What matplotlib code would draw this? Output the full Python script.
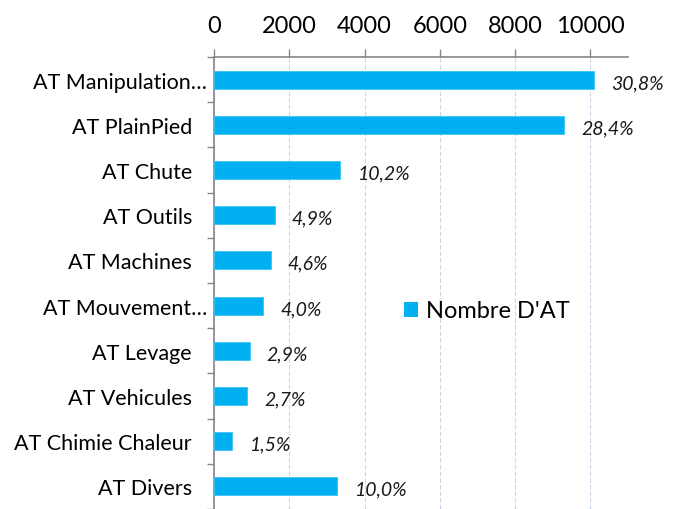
import numpy as np
import matplotlib
matplotlib.use("Agg")
import matplotlib.pyplot as plt
import matplotlib.transforms as mtransforms
from matplotlib.patches import Patch

plt.rcParams['font.family'] = ['Lato', 'DejaVu Sans']

# données
categories = ["AT Manipulation…", "AT PlainPied", "AT Chute", "AT Outils",
              "AT Machines", "AT Mouvement…", "AT Levage", "AT Vehicules",
              "AT Chimie Chaleur", "AT Divers"]
nombre_at = [10100, 9310, 3350, 1610, 1510, 1310, 950, 885, 490, 3280]
pourcents = ["30,8%", "28,4%", "10,2%", "4,9%", "4,6%", "4,0%",
             "2,9%", "2,7%", "1,5%", "10,0%"]
x_ticks = [0, 2000, 4000, 6000, 8000, 10000]

bleu = '#00B0F0'
gris = '#868686'

fig = plt.figure(figsize=(6.75, 5.1), dpi=100)
ax = fig.add_axes([214 / 675, 0.0, (628 - 214) / 675, 1 - 58 / 510])

y = np.arange(len(categories))
ax.barh(y, nombre_at, height=0.4, color=bleu, edgecolor='#3CC3F3', linewidth=0.6,
        zorder=3, label="Nombre D'AT")

ax.set_xlim(0, 11000)
ax.set_ylim(9.33, -0.5)

# axe x en haut
ax.xaxis.tick_top()
ax.set_xticks(x_ticks)
ax.set_xticklabels([str(t) for t in x_ticks], fontsize=17)
ax.tick_params(axis='x', which='major', direction='out', length=6, width=1,
               color=gris, pad=9)
ax.grid(axis='x', color='#C9D6EA', linestyle=(0, (4, 2)), linewidth=0.8, zorder=0)

# axe y : étiquettes centrées, graduations entre catégories
ax.set_yticks(y)
ax.set_yticklabels(categories, fontsize=15.5)
ax.tick_params(axis='y', which='major', length=0, pad=5)
ax.set_yticks(np.arange(-0.5, 10, 1), minor=True)
ax.tick_params(axis='y', which='minor', direction='out', length=5, width=1, color=gris)

# les étiquettes non tronquées sont décalées vers la gauche (comme Excel)
decal = mtransforms.ScaledTranslation(-15 / 100, 0, fig.dpi_scale_trans)
for lab in ax.get_yticklabels():
    if not lab.get_text().endswith('…'):
        lab.set_transform(lab.get_transform() + decal)

for s in ['right', 'bottom']:
    ax.spines[s].set_visible(False)
for s in ['top', 'left']:
    ax.spines[s].set_color(gris)
    ax.spines[s].set_linewidth(1.2)

# étiquettes de pourcentage
for yi, v, p in zip(y, nombre_at, pourcents):
    ax.annotate(p, xy=(v, yi), xytext=(12, -2), textcoords='offset points',
                ha='left', va='center', fontsize=14, style='italic', color='#1a1a1a')

ax.legend(handles=[Patch(facecolor=bleu, label="Nombre D'AT")],
          loc='center left', bbox_to_anchor=(392 / 675, 1 - 312 / 510),
          bbox_transform=fig.transFigure, frameon=False, fontsize=17,
          handlelength=0.6, handleheight=0.6, handletextpad=0.35, borderpad=0)

fig.savefig('out.png', dpi=100)
